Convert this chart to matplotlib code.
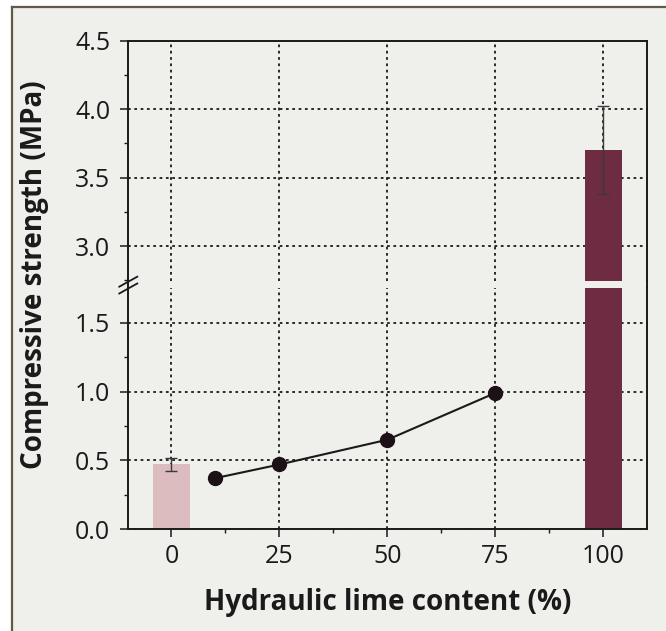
"""
Compressive strength vs hydraulic lime content, broken y axis.
"""
import matplotlib
matplotlib.use('Agg')
import matplotlib.pyplot as plt
from matplotlib.lines import Line2D
from matplotlib.patches import Rectangle
from matplotlib.ticker import MultipleLocator

plt.rcParams['font.family'] = ['Open Sans', 'DejaVu Sans']

# data
bar_x = [0, 100]
bar_vals = [0.47, 3.70]
bar_err = [0.045, 0.32]
bar_colors = ['#dcbcbe', '#6e2c43']

line_x = [10, 25, 50, 75]
line_vals = [0.37, 0.47, 0.65, 0.99]

x_ticks = [0, 25, 50, 75, 100]
low_ticks = [0.0, 0.5, 1.0, 1.5]
high_ticks = [3.0, 3.5, 4.0, 4.5]

# palette
BG = '#efefec'
FRAME = '#605b47'
INK = '#1a1a1a'

W, H = 6.66, 6.31
fig = plt.figure(figsize=(W, H), dpi=100)
fig.patch.set_facecolor('white')

# paper panel with olive frame on left/top
fig.add_artist(Rectangle((12 / 666, 0), 1, 1 - 7 / 631, transform=fig.transFigure,
                         facecolor=BG, edgecolor='none', zorder=0))
fig.add_artist(Line2D([12 / 666, 12 / 666], [0, 1 - 7 / 631], transform=fig.transFigure,
                      color=FRAME, lw=1.6))
fig.add_artist(Line2D([12 / 666, 1], [1 - 7 / 631, 1 - 7 / 631], transform=fig.transFigure,
                      color=FRAME, lw=1.6))

left, width = 0.1926, 0.7784
ax_hi = fig.add_axes([left, 0.5547, width, 0.3811])
ax_lo = fig.add_axes([left, 0.1613, width, 0.3815])

for ax in (ax_hi, ax_lo):
    ax.set_facecolor('none')
    ax.set_axisbelow(True)
    ax.bar(bar_x, bar_vals, width=8.5, color=bar_colors, zorder=2)
    ax.errorbar(bar_x, bar_vals, yerr=bar_err, fmt='none', ecolor='#3a3a3a',
                elinewidth=1.0, capsize=4, capthick=1.0, zorder=3)
    ax.plot(line_x, line_vals, color=INK, lw=1.5, marker='o', ms=10,
            mfc='#1c1117', mec='#1c1117', zorder=4)
    ax.set_xlim(-10, 110)
    ax.set_xticks(x_ticks)
    ax.xaxis.set_minor_locator(MultipleLocator(12.5))
    ax.yaxis.set_minor_locator(MultipleLocator(0.25))
    ax.grid(True, which='major', color=INK, lw=1.3, linestyle=(0, (1.5, 2.0)))
    for s in ax.spines.values():
        s.set_linewidth(1.4)
        s.set_color(INK)
    ax.tick_params(which='major', direction='out', length=6, width=1.1,
                   labelsize=18, pad=7, color=INK, labelcolor=INK)
    ax.tick_params(which='minor', direction='out', length=3, width=1.0, color=INK)

ax_hi.set_ylim(2.745, 4.5)
ax_hi.set_yticks(high_ticks)
ax_hi.set_yticklabels([f'{v:.1f}' for v in high_ticks])
ax_hi.spines['bottom'].set_visible(False)
ax_hi.tick_params(axis='x', which='both', bottom=False, labelbottom=False)

ax_lo.set_ylim(0, 1.748)
ax_lo.set_yticks(low_ticks)
ax_lo.set_yticklabels([f'{v:.1f}' for v in low_ticks])
ax_lo.spines['top'].set_visible(False)
ax_lo.set_xticklabels([str(v) for v in x_ticks])
ax_lo.tick_params(axis='x', which='major', pad=5)

# spines across the break
y_gap_lo, y_gap_hi = 0.5428, 0.5547
for xf in (left, left + width):
    fig.add_artist(Line2D([xf, xf], [y_gap_lo, y_gap_hi], transform=fig.transFigure,
                          color=INK, lw=1.4))

# break marks on the left spine
for yc in (1 - 281.7 / 631, 1 - 288.5 / 631):
    fig.add_artist(Line2D([left - 9 / 666, left + 9 / 666], [yc - 5 / 631, yc + 5 / 631],
                          transform=fig.transFigure, color=INK, lw=1.3))

fig.text(35 / 666, 1 - 275 / 631, 'Compressive strength (MPa)', rotation=90,
         ha='center', va='center', fontsize=20, fontweight='bold', color=INK)
fig.text(387.5 / 666, 1 - 610 / 631, 'Hydraulic lime content (%)',
         ha='center', va='baseline', fontsize=20, fontweight='bold', color=INK)

fig.savefig('out.png', dpi=100, facecolor='white')
